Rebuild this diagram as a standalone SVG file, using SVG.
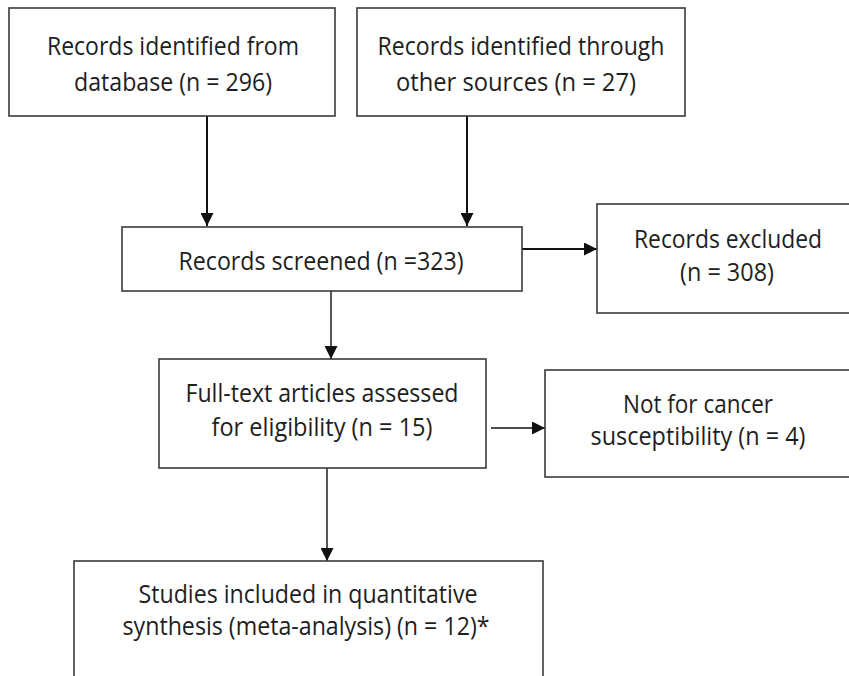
<svg xmlns="http://www.w3.org/2000/svg" width="849" height="676" viewBox="0 0 849 676">
<style>
.box{fill:#fff;stroke:#3a3a3a;stroke-width:1.6}
.t{font-family:"Open Sans","Liberation Sans",Arial,sans-serif;font-size:25px;fill:#1e1e1e;text-anchor:middle}
.c{stroke:#111;fill:none}
</style>
<defs>
<marker id="ah2" viewBox="0 0 10 10" refX="10" refY="5" markerWidth="13" markerHeight="13" markerUnits="userSpaceOnUse" orient="auto">
<path d="M0,0 L10,5 L0,10 z" fill="#111"/>
</marker>
</defs>
<rect width="849" height="676" fill="#fff"/>
<g id="connectors">
<line class="c" x1="207" y1="116" x2="207" y2="226" stroke-width="2" marker-end="url(#ah2)"/>
<line class="c" x1="467" y1="116" x2="467" y2="226" stroke-width="2" marker-end="url(#ah2)"/>
<line class="c" x1="522" y1="249" x2="597" y2="249" stroke-width="2" marker-end="url(#ah2)"/>
<line class="c" x1="331" y1="291" x2="331" y2="359" stroke-width="1.4" marker-end="url(#ah2)"/>
<line class="c" x1="491" y1="428" x2="545" y2="428" stroke-width="1.4" marker-end="url(#ah2)"/>
<line class="c" x1="327" y1="468" x2="327" y2="561" stroke-width="1.4" marker-end="url(#ah2)"/>
</g>
<g id="n1">
<rect class="box" x="9" y="8" width="326" height="108"/>
<text class="t" x="173" y="55" textLength="252" lengthAdjust="spacingAndGlyphs">Records identified from</text>
<text class="t" x="173" y="91" textLength="198" lengthAdjust="spacingAndGlyphs">database (n = 296)</text>
</g>
<g id="n2">
<rect class="box" x="357" y="8" width="328" height="108"/>
<text class="t" x="521" y="55" textLength="287" lengthAdjust="spacingAndGlyphs">Records identified through</text>
<text class="t" x="516" y="91" textLength="240" lengthAdjust="spacingAndGlyphs">other sources (n = 27)</text>
</g>
<g id="n3">
<rect class="box" x="122" y="227" width="400" height="64"/>
<text class="t" x="321" y="270" textLength="285" lengthAdjust="spacingAndGlyphs">Records screened (n =323)</text>
</g>
<g id="n4">
<rect class="box" x="597" y="204" width="256" height="109"/>
<text class="t" x="728" y="248" textLength="188" lengthAdjust="spacingAndGlyphs">Records excluded</text>
<text class="t" x="727" y="281" textLength="94" lengthAdjust="spacingAndGlyphs">(n = 308)</text>
</g>
<g id="n5">
<rect class="box" x="159" y="359" width="327" height="109"/>
<text class="t" x="322" y="402" textLength="273" lengthAdjust="spacingAndGlyphs">Full-text articles assessed</text>
<text class="t" x="322" y="436" textLength="221" lengthAdjust="spacingAndGlyphs">for eligibility (n = 15)</text>
</g>
<g id="n6">
<rect class="box" x="545" y="370" width="308" height="107"/>
<text class="t" x="698" y="413" textLength="150" lengthAdjust="spacingAndGlyphs">Not for cancer</text>
<text class="t" x="698" y="445" textLength="215" lengthAdjust="spacingAndGlyphs">susceptibility (n = 4)</text>
</g>
<g id="n7">
<rect class="box" x="74" y="561" width="469" height="130"/>
<text class="t" x="308" y="603" textLength="339" lengthAdjust="spacingAndGlyphs">Studies included in quantitative</text>
<text class="t" x="306" y="635" textLength="367" lengthAdjust="spacingAndGlyphs">synthesis (meta-analysis) (n = 12)*</text>
</g>
</svg>
